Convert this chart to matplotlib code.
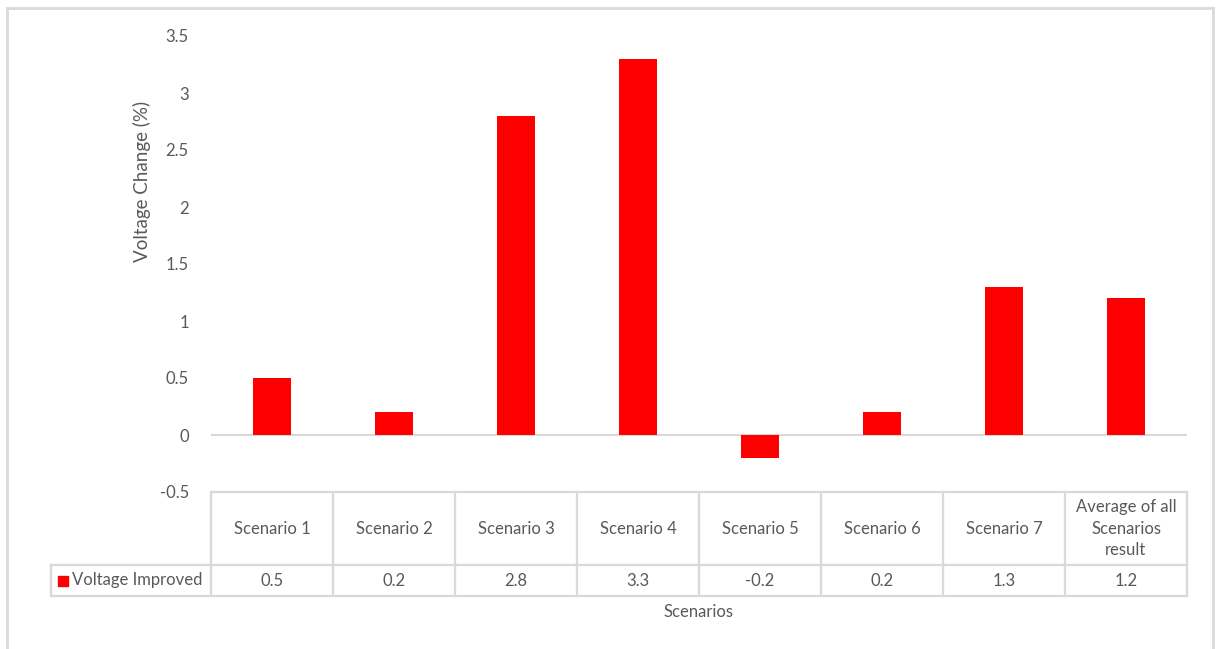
import matplotlib
matplotlib.use("Agg")
import matplotlib.pyplot as plt
from matplotlib import transforms
from matplotlib.lines import Line2D
from matplotlib.patches import Rectangle

scenarios = ["Scenario 1", "Scenario 2", "Scenario 3", "Scenario 4",
             "Scenario 5", "Scenario 6", "Scenario 7",
             "Average of all\nScenarios\nresult"]
voltage_improved = [0.5, 0.2, 2.8, 3.3, -0.2, 0.2, 1.3, 1.2]
value_labels = ["0.5", "0.2", "2.8", "3.3", "-0.2", "0.2", "1.3", "1.2"]
series_name = "Voltage Improved"
yticks = [-0.5, 0, 0.5, 1, 1.5, 2, 2.5, 3, 3.5]

W, H = 1217, 649
BAR = "#ff0000"
GRID = "#d9d9d9"
TXT = "#595959"
FS = 12
plt.rcParams['font.family'] = ['Lato', 'DejaVu Sans']

fig = plt.figure(figsize=(W / 100, H / 100), dpi=100)
ax = fig.add_axes([211 / W, 1 - 492 / H, (1187 - 211) / W, (492 - 36) / H])

x = list(range(len(scenarios)))
ax.bar(x, voltage_improved, width=0.31, color=BAR, zorder=2)
ax.axhline(0, color=GRID, lw=1.5, zorder=1)

ax.set_xlim(-0.5, len(scenarios) - 0.5)
ax.set_ylim(-0.5, 3.5)
ax.set_yticks(yticks)
ax.set_yticklabels([f"{t:g}" for t in yticks])
ax.set_xticks([])
ax.tick_params(axis="y", length=0, pad=16, labelsize=FS, labelcolor=TXT)
for s in ax.spines.values():
    s.set_visible(False)

# data table under the plot: x in data units, y in axes fraction
tr = transforms.blended_transform_factory(ax.transData, ax.transAxes)
ph = 492 - 36
y_top = 0.0
y_mid = -(565 - 492) / ph
y_bot = -(596 - 492) / ph
x_left = -0.5 - (211 - 51) / 122
x_right = len(scenarios) - 0.5
kw = dict(color=GRID, lw=1.6, transform=tr, clip_on=False)
ax.add_line(Line2D([-0.5, x_right], [y_top, y_top], **kw))
ax.add_line(Line2D([x_left, x_right], [y_mid, y_mid], **kw))
ax.add_line(Line2D([x_left, x_right], [y_bot, y_bot], **kw))
for b in range(len(scenarios) + 1):
    xb = b - 0.5
    ax.add_line(Line2D([xb, xb], [y_top, y_bot], **kw))
ax.add_line(Line2D([x_left, x_left], [y_mid, y_bot], **kw))

for i, (name, lab) in enumerate(zip(scenarios, value_labels)):
    ax.text(i, (y_top + y_mid) / 2, name, transform=tr, ha="center",
            va="center", fontsize=FS, color=TXT, linespacing=1.45)
    ax.text(i, (y_mid + y_bot) / 2, lab, transform=tr, ha="center",
            va="center", fontsize=FS, color=TXT)

# series key in the first column
sq = 10 / 122
ax.add_patch(Rectangle((x_left + 7 / 122, (y_mid + y_bot) / 2 - 5 / ph), sq,
                       10 / ph, color=BAR, transform=tr, clip_on=False))
ax.text(x_left + 21 / 122, (y_mid + y_bot) / 2, series_name, transform=tr,
        ha="left", va="center", fontsize=FS, color=TXT)

fig.text(699 / W, 1 - 612 / H, "Scenarios", ha="center", va="center",
         fontsize=FS, color=TXT)
fig.text(142 / W, 1 - 181 / H, "Voltage Change (%)", ha="center",
         va="center", rotation=90, fontsize=13.5, color=TXT)

# chart frame
fkw = dict(color=GRID, lw=2, transform=fig.transFigure)
fig.add_artist(Line2D([7 / W, 7 / W], [0, 1 - 8 / H], **fkw))
fig.add_artist(Line2D([7 / W, 1213 / W], [1 - 8 / H, 1 - 8 / H], **fkw))
fig.add_artist(Line2D([1213 / W, 1213 / W], [0, 1 - 8 / H], **fkw))

fig.savefig("out.png", dpi=100)
